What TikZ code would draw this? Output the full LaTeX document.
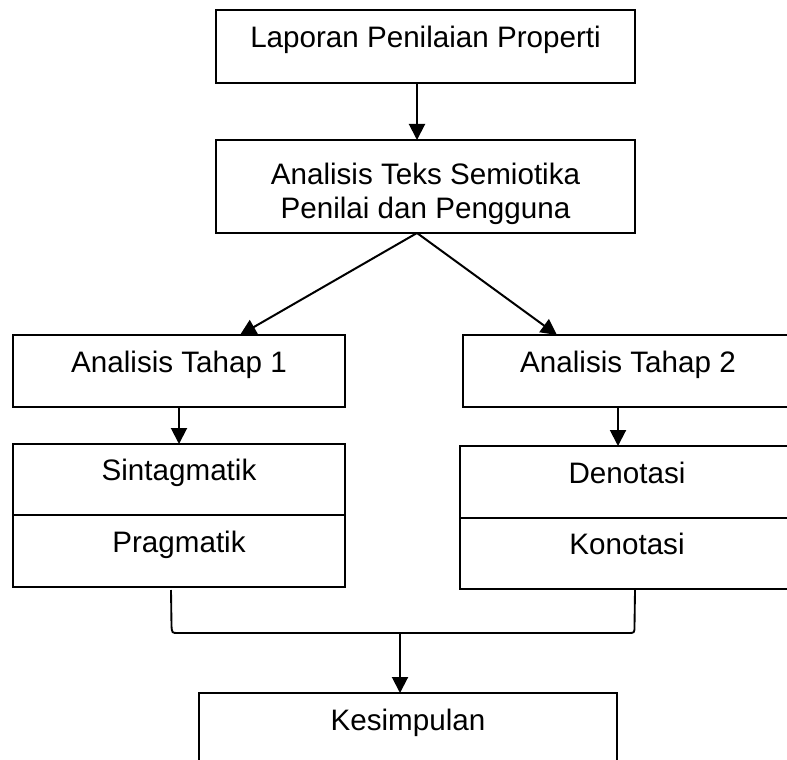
\documentclass[tikz,border=0pt]{standalone}
\usepackage{fontspec}
\setmainfont{Liberation Sans}
\usetikzlibrary{positioning,arrows.meta}

\begin{document}
\begin{tikzpicture}[x=0.75pt,y=-0.75pt,
  kotak/.style={draw, line width=0.9pt, outer sep=0pt, inner sep=0pt, align=center,
    text height=9pt, text depth=7pt, font=\fontsize{22.2}{25.2}\selectfont},
  panah/.style={line width=1.5pt, -{Triangle[width=12pt,length=12pt]}}]

\useasboundingbox (0,0) rectangle (787,759);
\clip (0,0) rectangle (787,759);

\node[kotak, minimum width=314.25pt, minimum height=54.75pt] (lap) at (425.5,46.5) {Laporan Penilaian Properti};
\node[kotak, minimum width=314.25pt, minimum height=69.75pt, text height=52pt, text depth=] (ats) at (425.5,186.5) {Analisis Teks Semiotika\\Penilai dan Pengguna};

\node[kotak, minimum width=249pt, minimum height=54pt] (th1) at (179,371) {Analisis Tahap 1};
\node[kotak, minimum width=247.5pt, minimum height=54pt] (th2) at (628,371) {Analisis Tahap 2};

\node[kotak, minimum width=249pt, minimum height=53.25pt] (sin) at (179,479.5) {Sintagmatik};
\node[kotak, minimum width=249pt, minimum height=54pt, below=0pt of sin] (pra) {Pragmatik};

\node[kotak, minimum width=250.5pt, minimum height=54pt] (den) at (627,482) {Denotasi};
\node[kotak, minimum width=250.5pt, minimum height=53.25pt, below=0pt of den] (kon) {Konotasi};

\node[kotak, minimum width=313.5pt, minimum height=54.75pt] (kes) at (408,729.5) {Kesimpulan};

\draw[panah] ([shift={(-8.5,0)}]lap.south) -- ([shift={(-8.5,0)}]ats.north);
\draw[panah] ([shift={(-8.5,0)}]ats.south) -- ([shift={(61,0)}]th1.north);
\draw[panah] ([shift={(-8.5,0)}]ats.south) -- ([shift={(-71,0)}]th2.north);

\draw[panah] (th1.south) -- (sin.north);
\draw[panah] ([shift={(-10,0)}]th2.south) -- ([shift={(-9,0)}]den.north);

\coordinate (kiri) at (171,590);
\coordinate (kanan) at (635,590);
\coordinate (tengah) at (400,633);
\draw[line width=1.4pt] (kiri) -- (171.5,626) .. controls (172,633) .. (178,633) -- (628,633) .. controls (634.5,633) .. (634.5,626) -- (kanan);
\draw[panah] (tengah) -- (tengah |- kes.north);

\end{tikzpicture}
\end{document}
